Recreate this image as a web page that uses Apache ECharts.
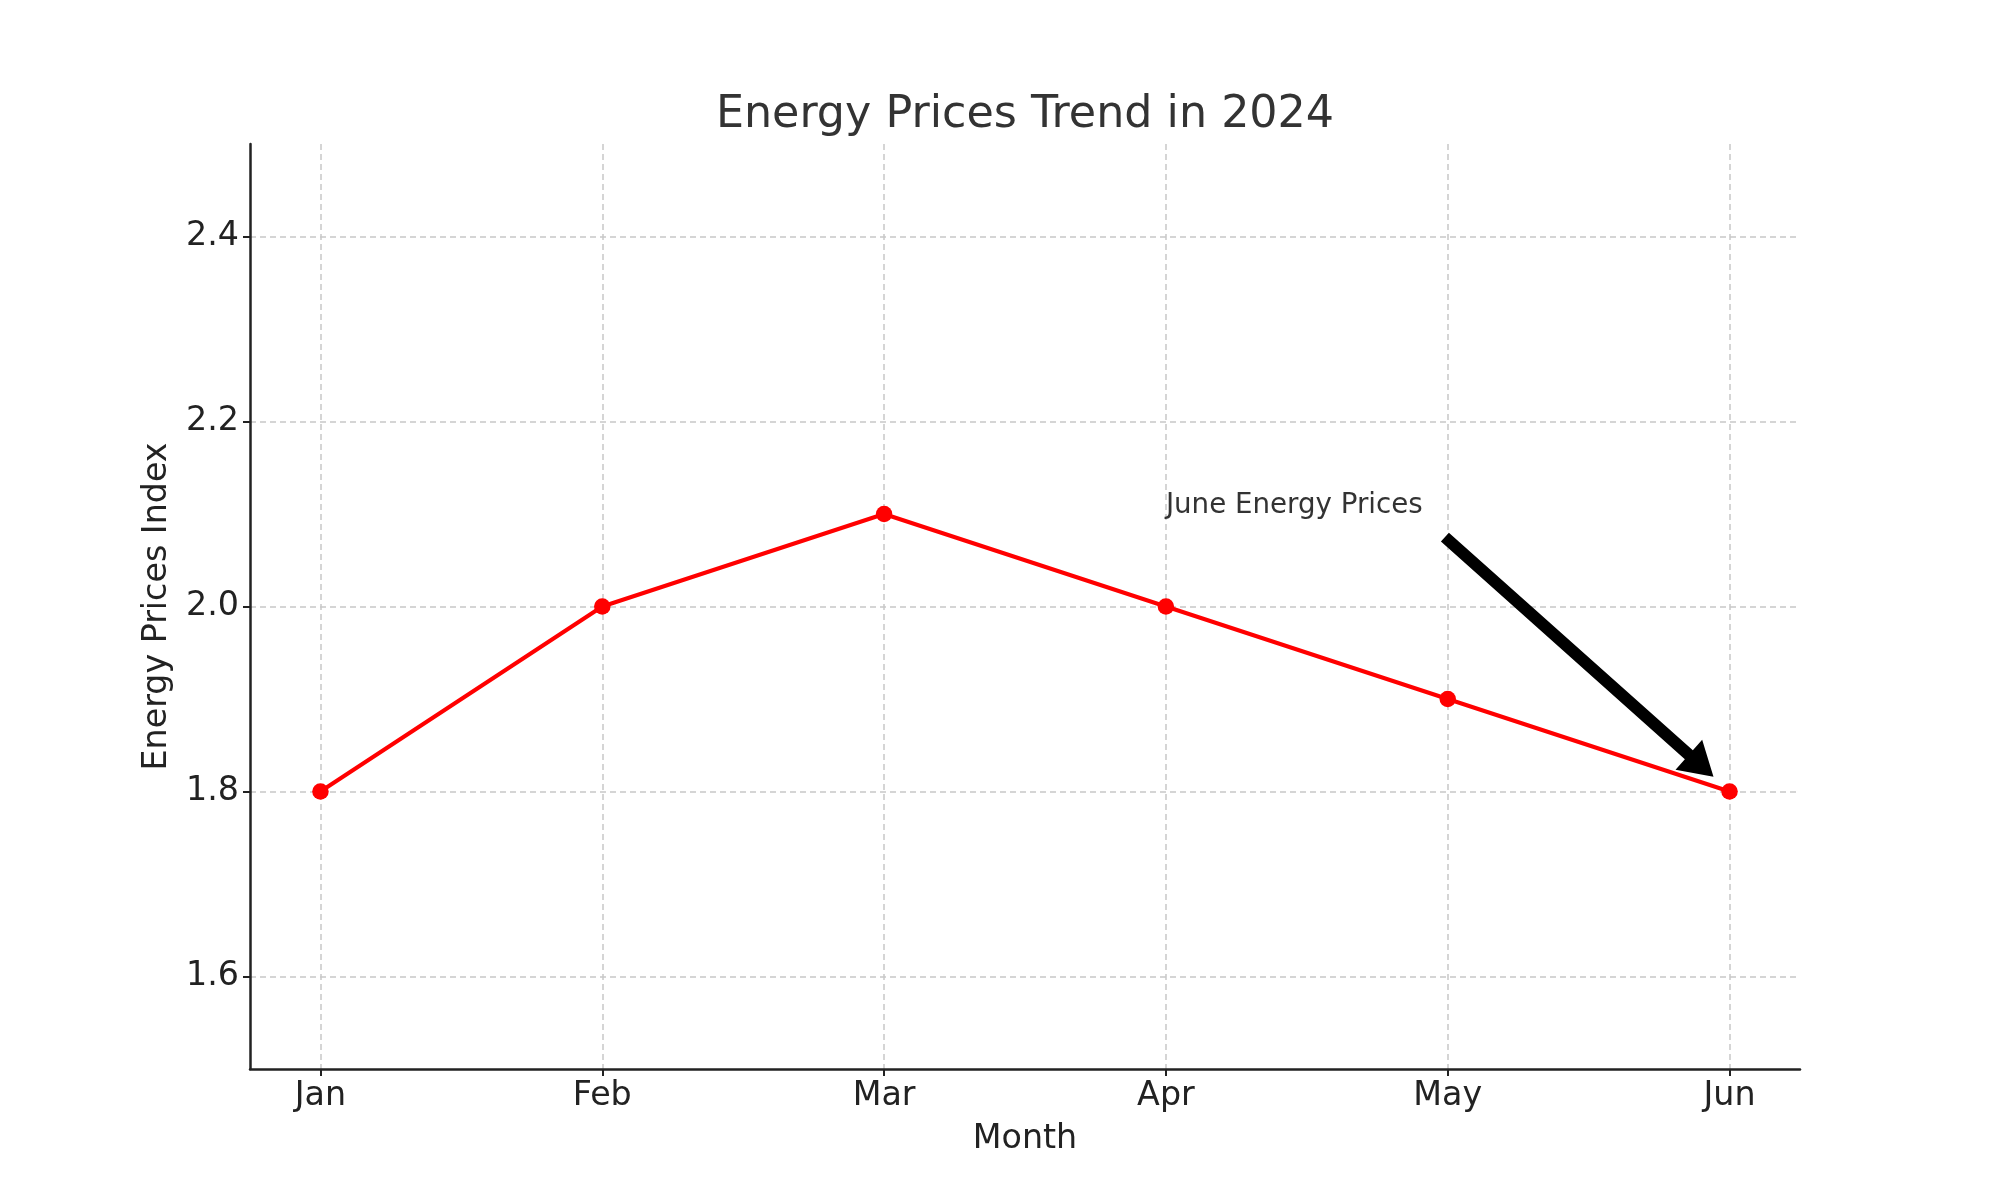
<!DOCTYPE html>
<html><head><meta charset="utf-8">
<script src="https://cdn.jsdelivr.net/npm/echarts@6/dist/echarts.min.js"></script>
<style>html,body{margin:0;padding:0;background:#fff}#c{width:2000px;height:1200px}</style>
</head><body><div id="c"></div>
<script>
const months = ["Jan", "Feb", "Mar", "Apr", "May", "Jun"];
const prices = [1.8, 2.0, 2.1, 2.0, 1.9, 1.8];
const yTicks = [1.6, 1.8, 2.0, 2.2, 2.4];
const annotationText = "June Energy Prices";
const annotationTextPos = [3, 2.1];
const arrowStart = [3.99, 2.075];
const arrowEnd = [4.943, 1.816];

const FONT = "DejaVu Sans";
const chart = echarts.init(document.getElementById('c'), null, {renderer: 'canvas'});
const option = {
  animation: false,
  backgroundColor: '#fff',
  title: {
    text: 'Energy Prices Trend in 2024',
    left: 1020, top: 88, textAlign: 'center',
    textStyle: {fontFamily: FONT, fontSize: 44.4, fontWeight: 'normal', color: '#333333'}
  },
  grid: {left: 250, right: 200, top: 144, bottom: 131, containLabel: false},
  xAxis: {
    type: 'value', min: -0.25, max: 5.25, interval: 1,
    name: 'Month', nameLocation: 'middle', nameGap: 54,
    nameTextStyle: {fontFamily: FONT, fontSize: 33.3, color: '#222'},
    axisLine: {show: true, onZero: false, lineStyle: {color: '#222', width: 2.5}},
    axisTick: {show: true, length: 7, lineStyle: {color: '#222', width: 2}, customValues: [0,1,2,3,4,5]},
    axisLabel: {fontFamily: FONT, fontSize: 33.3, color: '#222', margin: 11,
      customValues: [0,1,2,3,4,5],
      formatter: v => months[Math.round(v)] || ''},
    splitLine: {show: true, lineStyle: {color: '#c8c8c8', width: 1.5, type: [6, 4]}}
  },
  yAxis: {
    type: 'value', min: 1.5, max: 2.5,
    name: 'Energy Prices Index', nameLocation: 'middle', nameGap: 76, nameRotate: 90,
    nameTextStyle: {fontFamily: FONT, fontSize: 33.3, color: '#222'},
    axisLine: {show: true, onZero: false, lineStyle: {color: '#222', width: 2.5}},
    axisTick: {show: true, length: 7, lineStyle: {color: '#222', width: 2}, customValues: yTicks},
    axisLabel: {fontFamily: FONT, fontSize: 33.3, color: '#222', margin: 11,
      customValues: yTicks, formatter: v => v.toFixed(1)},
    splitLine: {show: true, lineStyle: {color: '#c8c8c8', width: 1.5, type: [6, 4]}}
  },
  series: [{
    type: 'line',
    data: prices.map((v, i) => [i, v]),
    symbol: 'circle', symbolSize: 16.5,
    itemStyle: {color: '#ff0000'},
    lineStyle: {color: '#ff0000', width: 4},
    z: 3
  }]
};
chart.setOption(option);

function drawAnnot() {
  const tp = chart.convertToPixel({gridIndex: 0}, annotationTextPos);
  const s = chart.convertToPixel({gridIndex: 0}, arrowStart);
  const e = chart.convertToPixel({gridIndex: 0}, arrowEnd);
  const dx = e[0] - s[0], dy = e[1] - s[1];
  const L = Math.sqrt(dx*dx + dy*dy);
  const ux = dx / L, uy = dy / L, px = -uy, py = ux;
  const headLen = 33, headW = 20, shaftW = 6;
  const bx = e[0] - ux*headLen, by = e[1] - uy*headLen;
  chart.setOption({
    graphic: [
      {type: 'text', x: tp[0], y: tp[1] + 6,
        style: {text: annotationText, fontFamily: FONT, fontSize: 27.7, fill: '#333333',
          textAlign: 'left', textVerticalAlign: 'bottom'}, z: 10},
      {type: 'polygon', z: 10,
        shape: {points: [
          [s[0] + px*shaftW, s[1] + py*shaftW],
          [bx + px*shaftW, by + py*shaftW],
          [bx + px*headW, by + py*headW],
          [e[0], e[1]],
          [bx - px*headW, by - py*headW],
          [bx - px*shaftW, by - py*shaftW],
          [s[0] - px*shaftW, s[1] - py*shaftW]
        ]},
        style: {fill: '#000'}}
    ]
  });
}
drawAnnot();
</script></body></html>
